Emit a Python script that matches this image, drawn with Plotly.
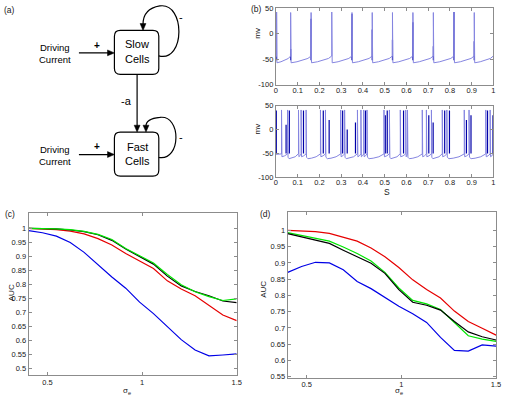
import plotly.graph_objects as go

FONT = "Liberation Sans, Arial, sans-serif"
W, H = 506, 400

# ---------------- data: panels (c) and (d) ----------------
sigma_e = [0.4, 0.4733, 0.5467, 0.62, 0.6933, 0.7667, 0.84, 0.9133,
           0.9867, 1.06, 1.1333, 1.2067, 1.28, 1.3533, 1.4267, 1.5]

c_blue = [0.992, 0.984, 0.972, 0.949, 0.914, 0.870, 0.826, 0.786,
          0.736, 0.695, 0.649, 0.602, 0.565, 0.544, 0.547, 0.551]
c_red = [1.0, 0.998, 0.995, 0.990, 0.980, 0.963, 0.940, 0.910,
         0.882, 0.856, 0.812, 0.783, 0.759, 0.724, 0.690, 0.670]
c_black = [1.0, 1.0, 0.998, 0.994, 0.988, 0.977, 0.957, 0.926,
           0.899, 0.872, 0.829, 0.794, 0.774, 0.759, 0.740, 0.734]
c_green = [1.0, 1.0, 0.998, 0.995, 0.989, 0.978, 0.960, 0.928,
           0.902, 0.876, 0.835, 0.798, 0.773, 0.756, 0.742, 0.748]

d_blue = [0.871, 0.889, 0.902, 0.900, 0.879, 0.843, 0.821, 0.793,
          0.767, 0.744, 0.717, 0.671, 0.631, 0.629, 0.648, 0.644]
d_red = [1.0, 0.998, 0.996, 0.991, 0.980, 0.967, 0.946, 0.919,
         0.886, 0.848, 0.818, 0.792, 0.752, 0.720, 0.699, 0.678]
d_green = [0.993, 0.985, 0.977, 0.967, 0.949, 0.929, 0.906, 0.871,
           0.823, 0.785, 0.774, 0.757, 0.717, 0.676, 0.666, 0.659]
d_black = [0.990, 0.980, 0.970, 0.960, 0.939, 0.919, 0.899, 0.868,
           0.818, 0.779, 0.770, 0.755, 0.720, 0.688, 0.673, 0.663]

auc_c_ticks = [0.5, 0.55, 0.6, 0.65, 0.7, 0.75, 0.8, 0.85, 0.9, 0.95, 1.0]
auc_c_labels = ["0.5", "0.55", "0.6", "0.65", "0.7", "0.75", "0.8", "0.85", "0.9", "0.95", "1"]
auc_d_ticks = [0.55, 0.6, 0.65, 0.7, 0.75, 0.8, 0.85, 0.9, 0.95, 1.0]
auc_d_labels = ["0.55", "0.6", "0.65", "0.7", "0.75", "0.8", "0.85", "0.9", "0.95", "1"]
sig_ticks = [0.5, 1.0, 1.5]
sig_labels = ["0.5", "1", "1.5"]

# ---------------- data: panel (b) voltage traces ----------------
slow_spike_t = [0.003, 0.068, 0.162, 0.257, 0.350, 0.443, 0.536, 0.630, 0.724, 0.819, 0.912]
slow_peak_mv = [42, 41, 41, 42, 41, 41, 41, 41, 41, 42, 41]
slow_dark_t = [0.003, 0.068, 0.162, 0.350, 0.443, 0.536, 0.630, 0.724, 0.819, 0.912]
slow_dark_top = [42, -30, 29, 38, 8, -12, 22, -25, 42, -15]
# recovery between spikes (fraction of interval, mV)
slow_rec_frac = [0.0, 0.3, 0.6, 0.85, 1.0]
slow_rec_mv = [-57, -55, -52, -48.5, -44]

fast_spike_t = [0.026, 0.054, 0.104, 0.116, 0.139, 0.205, 0.228, 0.298, 0.316,
                0.375, 0.391, 0.404, 0.419, 0.497, 0.522, 0.572, 0.597, 0.605,
                0.673, 0.692, 0.715, 0.765, 0.786, 0.866, 0.888, 0.965, 0.985]
fast_dark_t = [0.002, 0.047, 0.062, 0.127, 0.218, 0.245, 0.307, 0.328, 0.366, 0.412,
               0.503, 0.512, 0.587, 0.703, 0.723, 0.776, 0.798, 0.876, 0.897, 0.973, 0.998]
fast_dark_top = [40, 10, 40, 40, 40, 20, 40, 0, 15, 40,
                 30, 40, 40, 30, 15, 40, 40, 20, 30, 40, 30]
fast_peak_mv = 41
fast_burst_rec_frac = [0.0, 0.5, 1.0]
fast_burst_rec_mv = [-57, -55, -51]
fast_gap_rec_frac = [0.0, 0.1, 0.35, 0.7, 1.0]
fast_gap_rec_mv = [-58, -61, -60, -57, -51]

mv_ticks = [-100, -50, 0, 50]
mv_labels = ["-100", "-50", "0", "50"]
t_ticks = [0, 0.1, 0.2, 0.3, 0.4, 0.5, 0.6, 0.7, 0.8, 0.9, 1.0]
t_labels = ["0", "0.1", "0.2", "0.3", "0.4", "0.5", "0.6", "0.7", "0.8", "0.9", "1"]


def build_trace(spikes, peaks, rec_choice, end_t, start_mv):
    xs, ys = [0.0], [start_mv]
    for i, t in enumerate(spikes):
        pk = peaks[i] if isinstance(peaks, list) else peaks
        t_next = spikes[i + 1] if i + 1 < len(spikes) else end_t
        fr, mv = rec_choice(t_next - t)
        xs += [t, t]
        ys += [mv[-1], pk]
        span = t_next - t - 0.003
        for f, v in zip(fr, mv):
            xs.append(t + 0.002 + f * span)
            ys.append(v)
    return xs, ys


def seg_trace(ts, tops, base):
    xs, ys = [], []
    for t, top in zip(ts, tops):
        xs += [t, t, None]
        ys += [base, top, None]
    return xs, ys


slow_x, slow_y = build_trace(slow_spike_t, slow_peak_mv,
                             lambda gap: (slow_rec_frac, slow_rec_mv), 1.0, -46)
fast_x, fast_y = build_trace(
    fast_spike_t, fast_peak_mv,
    lambda gap: (fast_burst_rec_frac, fast_burst_rec_mv) if gap < 0.03
    else (fast_gap_rec_frac, fast_gap_rec_mv), 1.0, -52)
sd_x, sd_y = seg_trace(slow_dark_t, slow_dark_top, -52)
fd_x, fd_y = seg_trace(fast_dark_t, fast_dark_top, -50)

LIGHT = "#8585e0"
DARK = "#0000a8"

fig = go.Figure()

# panel (b)
fig.add_trace(go.Scatter(x=sd_x, y=sd_y, mode="lines", line=dict(color=DARK, width=1.2),
                         xaxis="x3", yaxis="y3", showlegend=False, hoverinfo="skip"))
fig.add_trace(go.Scatter(x=slow_x, y=slow_y, mode="lines", line=dict(color=LIGHT, width=1),
                         xaxis="x3", yaxis="y3", showlegend=False))
fig.add_trace(go.Scatter(x=fd_x, y=fd_y, mode="lines", line=dict(color=DARK, width=1.2),
                         xaxis="x4", yaxis="y4", showlegend=False, hoverinfo="skip"))
fig.add_trace(go.Scatter(x=fast_x, y=fast_y, mode="lines", line=dict(color=LIGHT, width=1),
                         xaxis="x4", yaxis="y4", showlegend=False))

# panels (c) and (d)
cols = {"blue": "#0000e6", "red": "#e60000", "black": "#000000", "green": "#00e600"}
for name, ys in [("blue", c_blue), ("red", c_red), ("black", c_black), ("green", c_green)]:
    fig.add_trace(go.Scatter(x=sigma_e, y=ys, mode="lines", line=dict(color=cols[name], width=1.2),
                             xaxis="x", yaxis="y", showlegend=False))
for name, ys in [("blue", d_blue), ("red", d_red), ("green", d_green), ("black", d_black)]:
    fig.add_trace(go.Scatter(x=sigma_e, y=ys, mode="lines", line=dict(color=cols[name], width=1.2),
                             xaxis="x2", yaxis="y2", showlegend=False))


def ax(**kw):
    d = dict(showline=True, linecolor="#8c8c8c", linewidth=1, mirror="allticks",
             ticks="inside", ticklen=3, tickcolor="#8c8c8c", showgrid=False, zeroline=False,
             tickfont=dict(size=7.5, color="#202020", family=FONT), fixedrange=True,
             ticklabeloverflow="allow")
    d.update(kw)
    return d


def dx(px):
    return px / W


def dy(py):
    return 1 - py / H


fig.update_layout(
    width=W, height=H, margin=dict(l=0, r=0, t=0, b=0),
    paper_bgcolor="white", plot_bgcolor="white",
    font=dict(family=FONT, color="#202020"),
    xaxis=ax(domain=[dx(27), dx(238)], range=[0.4, 1.5], tickvals=sig_ticks, ticktext=sig_labels, anchor="y"),
    yaxis=ax(domain=[dy(380), dy(214)], range=[0.474, 1.054], tickvals=auc_c_ticks, ticktext=auc_c_labels, anchor="x"),
    xaxis2=ax(domain=[dx(289.7), dx(501)], range=[0.4, 1.5], tickvals=sig_ticks, ticktext=sig_labels, anchor="y2",
              ticklabelstandoff=-1),
    yaxis2=ax(domain=[dy(383), dy(213)], range=[0.545, 1.056], tickvals=auc_d_ticks, ticktext=auc_d_labels, anchor="x2"),
    xaxis3=ax(domain=[dx(277.7), dx(498.3)], range=[0, 1], tickvals=t_ticks, ticktext=t_labels, anchor="y3",
              ticklabelstandoff=-2),
    yaxis3=ax(domain=[dy(82.7), dy(4)], range=[-100, 50], tickvals=mv_ticks, ticktext=mv_labels, anchor="x3"),
    xaxis4=ax(domain=[dx(277.7), dx(498.3)], range=[0, 1], tickvals=t_ticks, ticktext=t_labels, anchor="y4",
              ticklabelstandoff=-2),
    yaxis4=ax(domain=[dy(177.3), dy(104)], range=[-100, 50], tickvals=mv_ticks, ticktext=mv_labels, anchor="x4"),
    xaxis5=dict(domain=[0, 253 / W], range=[0, 253], visible=False, fixedrange=True, anchor="y5"),
    yaxis5=dict(domain=[0.5, 1], range=[200, 0], visible=False, fixedrange=True, anchor="x5"),
)

# ---------------- panel (a) diagram (pixel-like coordinates on x5/y5) ----------------
def rrect(x0, y0, x1, y1, r):
    return (f"M {x0+r},{y0} L {x1-r},{y0} Q {x1},{y0} {x1},{y0+r} L {x1},{y1-r} "
            f"Q {x1},{y1} {x1-r},{y1} L {x0+r},{y1} Q {x0},{y1} {x0},{y1-r} "
            f"L {x0},{y0+r} Q {x0},{y0} {x0+r},{y0} Z")


shapes = []
LC = "#000000"
sty = dict(xref="x5", yref="y5", line=dict(color=LC, width=1.2))
shapes.append(dict(type="path", path=rrect(114, 27, 159, 72, 6), fillcolor="white", **sty))
shapes.append(dict(type="path", path=rrect(114, 131, 159, 176, 6), fillcolor="white", **sty))
for yy in (50, 154):
    shapes.append(dict(type="line", x0=78, y0=yy, x1=109, y1=yy, **sty))
    shapes.append(dict(type="path", path=f"M 107,{yy-3} L 114,{yy} L 107,{yy+3} Z",
                       fillcolor=LC, xref="x5", yref="y5", line=dict(color=LC, width=0.5)))
shapes.append(dict(type="line", x0=137, y0=72, x1=137, y1=125, **sty))
shapes.append(dict(type="path", path="M 134,124 L 140,124 L 137,131 Z",
                   fillcolor=LC, xref="x5", yref="y5", line=dict(color=LC, width=0.5)))
shapes.append(dict(type="path", path="M 159,53 C 186,60 186,-2 160,2 C 148,4 143,10 143,21",
                   **sty))
shapes.append(dict(type="path", path="M 140,20 L 146,20 L 143,27 Z",
                   fillcolor=LC, xref="x5", yref="y5", line=dict(color=LC, width=0.5)))
shapes.append(dict(type="path", path="M 159,157 C 182,161 182,113 160,116 C 150,117 146,120 146,125",
                   **sty))
shapes.append(dict(type="path", path="M 143,124 L 149,124 L 146,131 Z",
                   fillcolor=LC, xref="x5", yref="y5", line=dict(color=LC, width=0.5)))
fig.update_layout(shapes=shapes)

ann = []


def t5(x, y, text, size, **kw):
    ann.append(dict(x=x, y=y, xref="x5", yref="y5", text=text, showarrow=False,
                    font=dict(size=size, family=FONT, color="#000"), xanchor="center",
                    yanchor="middle", **kw))


t5(137, 41, "Slow", 11)
t5(137, 56, "Cells", 11)
t5(137, 146, "Fast", 11)
t5(137, 161, "Cells", 11)
for y0 in (45, 149):
    t5(54, y0, "Driving", 9.5)
    t5(54, y0 + 12, "Current", 9.5)
t5(96, 42, "<b>+</b>", 10)
t5(96, 146, "<b>+</b>", 10)
t5(126, 99, "-a", 11)
t5(181, 13, "-", 11)
t5(181, 136, "-", 11)


def tp(px, py, text, size, angle=0):
    ann.append(dict(x=dx(px), y=dy(py), xref="paper", yref="paper", text=text, showarrow=False,
                    font=dict(size=size, family=FONT, color="#202020"), xanchor="center",
                    yanchor="middle", textangle=angle))


tp(8, 6, "(a)", 8.5)
tp(258, 5, "(b)", 8.5)
tp(8, 215, "(c)", 8.5)
tp(267, 215, "(d)", 8.5)
tp(259, 30, "mv", 8, -90)
tp(259, 128, "mv", 8, -90)
tp(390, 192, "S", 8.5)
tp(9, 295, "AUC", 8, -90)
tp(265, 292, "AUC", 8, -90)
tp(127, 396, "σ<sub>e</sub>", 8)
tp(403, 396, "σ<sub>e</sub>", 8)

fig.update_layout(annotations=ann)
fig.write_html("out.html", config={"displayModeBar": False},
               post_script="document.body.style.margin='0';document.body.style.overflow='hidden';")
